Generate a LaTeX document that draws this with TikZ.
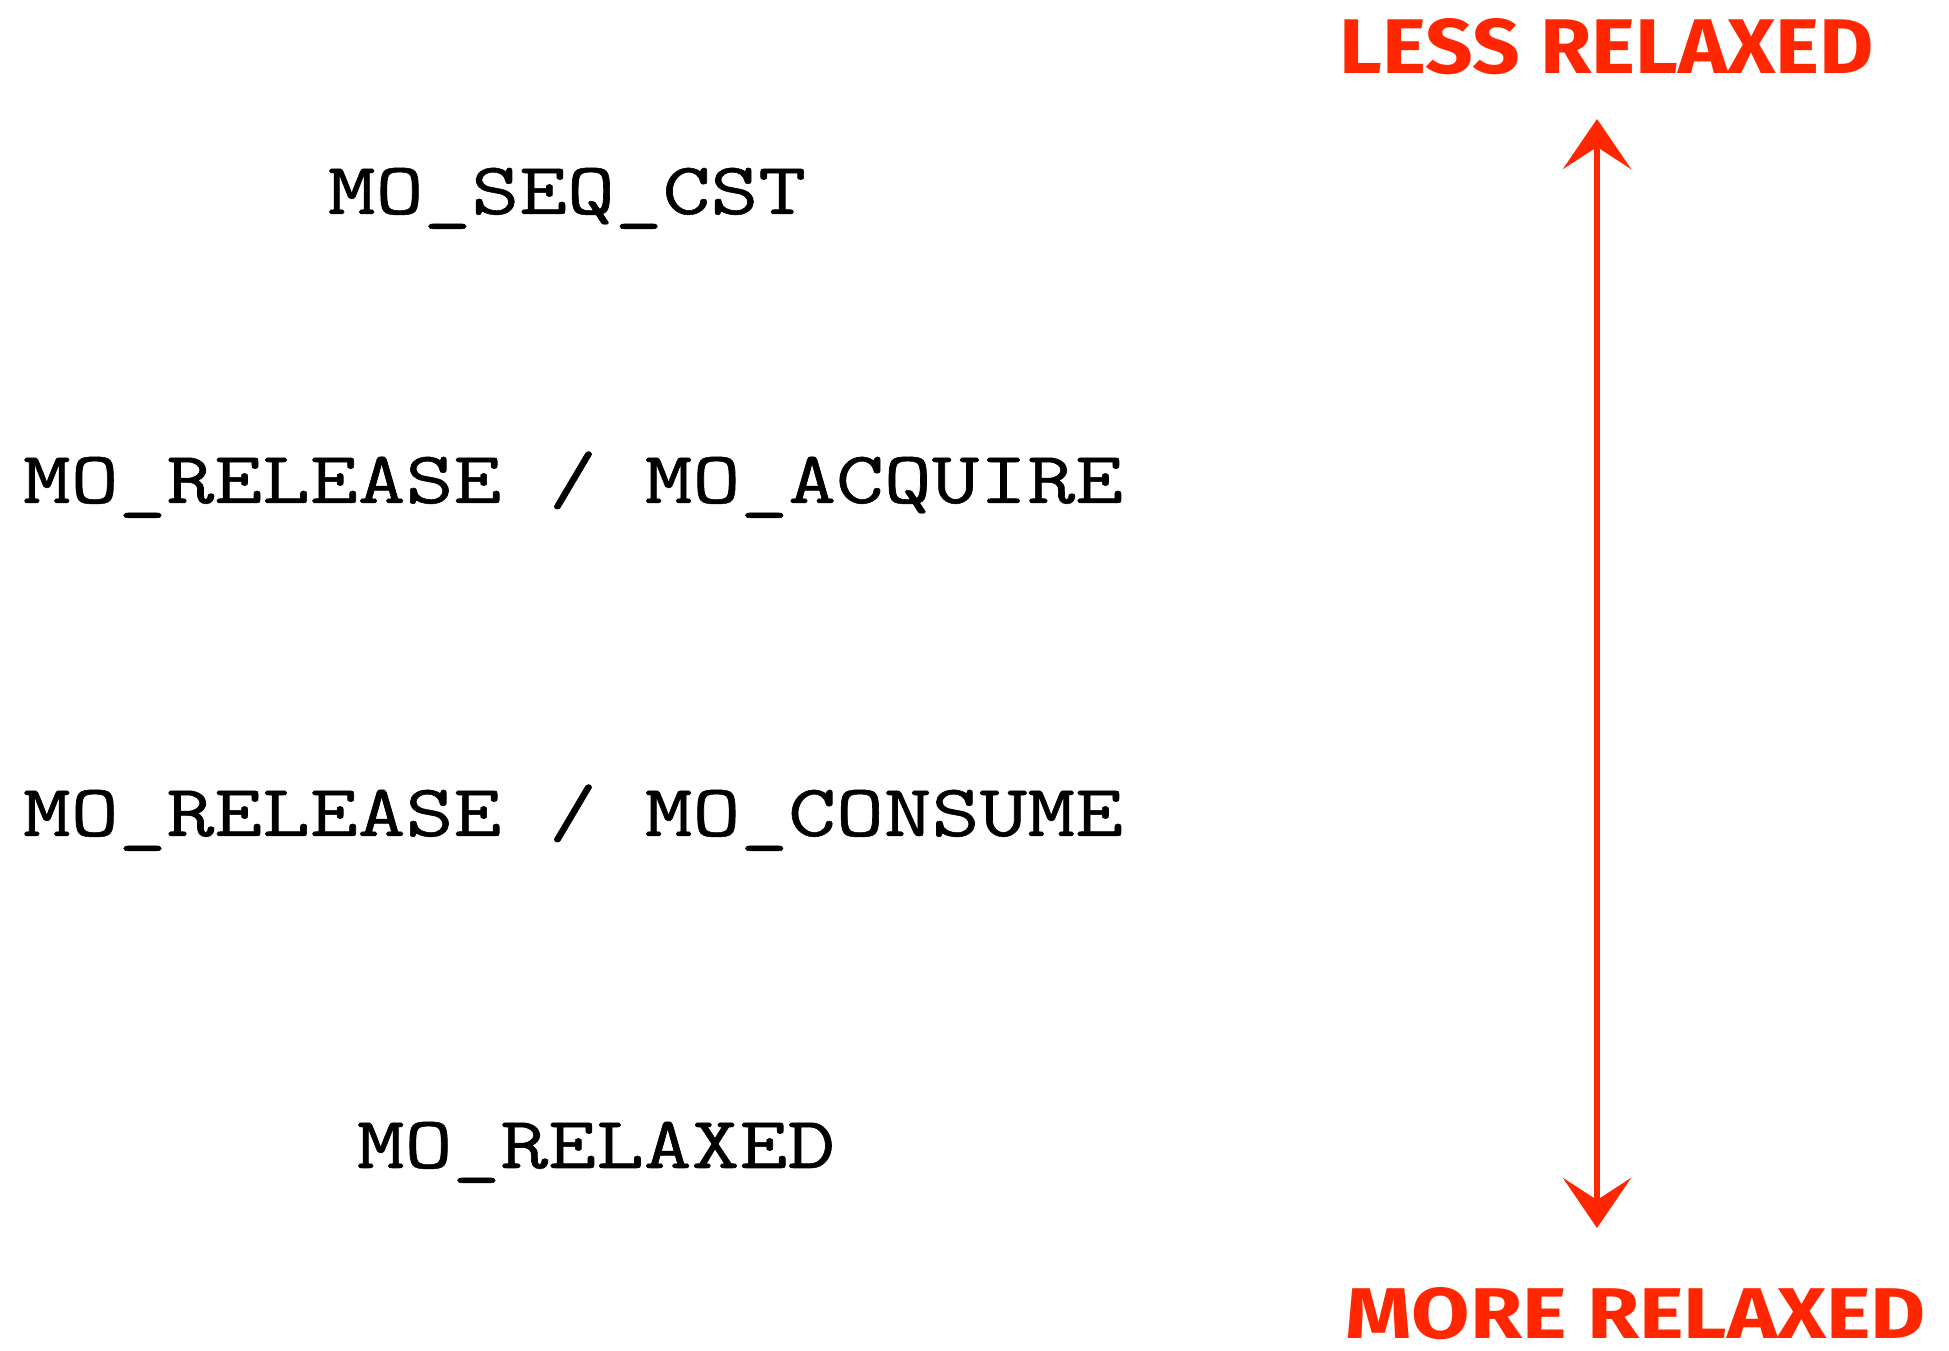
\documentclass[tikz,border=0pt]{standalone}
\usepackage{fontspec}
\usetikzlibrary{arrows.meta}
\newfontfamily\monof{Latin Modern Mono}[FakeBold=0.7]
\newfontfamily\handf{Fira Sans}
\definecolor{redink}{RGB}{255,38,0}
\newcommand{\ordtext}[1]{\scalebox{1.255}[1]{\monof\fontsize{74}{90}\selectfont #1}}
\tikzset{
  order/.style={anchor=base, inner sep=0pt, text=black},
  scale label/.style={anchor=center, inner sep=0pt, text=redink},
  axisarrow/.style={draw=redink, line width=6pt, line cap=round,
    {Stealth[length=50pt,width=68pt,inset=22pt]}-{Stealth[length=50pt,width=68pt,inset=22pt]}}
}
\begin{document}
\begin{tikzpicture}[x=1pt,y=1pt]
\useasboundingbox (0,0) rectangle (1949,1351);
% y measured from top: Y = 1351 - pix
\node[order] (seq) at (567,1351-214) {\ordtext{MO\_SEQ\_CST}};
\node[order] (acq) at (573,1351-503) {\ordtext{MO\_RELEASE / MO\_ACQUIRE}};
\node[order] (con) at (573,1351-836) {\ordtext{MO\_RELEASE / MO\_CONSUME}};
\node[order] (rlx) at (596,1351-1168) {\ordtext{MO\_RELAXED}};
\node[scale label] (less) at (1607,1351-47) {\resizebox{534pt}{55pt}{\handf\bfseries LESS RELAXED}};
\node[scale label] (more) at (1636,1351-1314) {\resizebox{580pt}{51pt}{\handf\bfseries MORE RELAXED}};
\coordinate (top) at (1597,1351-119);
\coordinate (bot) at (1597,1351-1228);
\draw[axisarrow] (bot) -- (top);
\end{tikzpicture}
\end{document}
